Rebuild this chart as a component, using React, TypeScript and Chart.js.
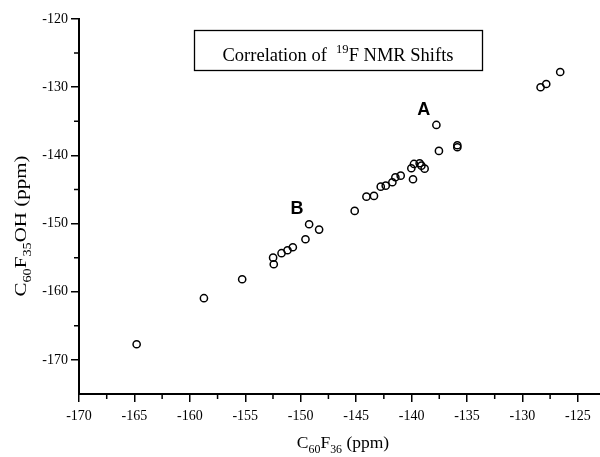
import React, { useEffect, useRef } from 'react';
import { Chart, registerables } from 'chart.js';

Chart.register(...registerables);

// C60F36 shifts (x, ppm)
const xShifts = [
  -164.8, -158.73, -155.28, -152.49, -152.43, -151.73, -151.19, -150.71, -149.57, -149.24,
  -148.34, -145.13, -144.07, -143.39, -142.78, -142.33, -141.73, -141.46, -140.98, -139.87,
  -140.02, -139.78, -139.27, -139.11, -138.82, -137.53, -137.76, -135.87, -135.87, -128.36,
  -127.85, -126.59,
];
// C60F35OH shifts (y, ppm)
const yShifts = [
  -167.7, -160.95, -158.17, -155.0, -155.97, -154.35, -153.92, -153.48, -152.3, -150.1,
  -150.89, -148.15, -146.06, -145.95, -144.59, -144.44, -143.94, -143.21, -142.98, -143.5,
  -141.89, -141.26, -141.16, -141.51, -141.95, -139.35, -135.54, -138.52, -138.81, -130.01,
  -129.53, -127.77,
];

const xTickValues = [-170, -165, -160, -155, -150, -145, -140, -135, -130, -125];
const yTickValues = [-170, -160, -150, -140, -130, -120];
const xMinorTicks = [-167.5, -162.5, -157.5, -152.5, -147.5, -142.5, -137.5, -132.5, -127.5];
const yMinorTicks = [-165, -155, -145, -135, -125];

const X_MIN = -170;
const X_MAX = -123;
const Y_MIN = -175;
const Y_MAX = -120;

const markLabels = [
  { text: 'A', x: -138.91, y: -133.34 },
  { text: 'B', x: -150.33, y: -147.86 },
];

const chartTitle = ['Correlation of  ', '19', 'F NMR Shifts'];
const xTitle = ['C', '60', 'F', '36', ' (ppm)'];
const yTitle = ['C', '60', 'F', '35', 'OH (ppm)'];

const SERIF = '"Liberation Serif", "Times New Roman", serif';
const SANS = '"Liberation Sans", Arial, sans-serif';

type Seg = { t: string; k?: 'sub' | 'sup' };

function drawRich(ctx: CanvasRenderingContext2D, segs: Seg[], x: number, y: number, size: number) {
  const small = size * 0.68;
  const widths = segs.map((s) => {
    ctx.font = `${s.k ? small : size}px ${SERIF}`;
    return ctx.measureText(s.t).width;
  });
  const total = widths.reduce((a, b) => a + b, 0);
  let cx = x - total / 2;
  ctx.textAlign = 'left';
  ctx.textBaseline = 'alphabetic';
  segs.forEach((s, i) => {
    ctx.font = `${s.k ? small : size}px ${SERIF}`;
    const dy = s.k === 'sub' ? size * 0.3 : s.k === 'sup' ? -size * 0.38 : 0;
    ctx.fillText(s.t, cx, y + dy);
    cx += widths[i];
  });
}

const decorPlugin = {
  id: 'decor',
  afterDraw(chart: any) {
    const ctx: CanvasRenderingContext2D = chart.ctx;
    const xs = chart.scales.x;
    const ys = chart.scales.y;
    const area = chart.chartArea;
    ctx.save();
    ctx.strokeStyle = '#000';
    ctx.fillStyle = '#000';
    // minor ticks
    ctx.lineWidth = 1.5;
    ctx.beginPath();
    xMinorTicks.forEach((v) => {
      const px = xs.getPixelForValue(v);
      ctx.moveTo(px, area.bottom);
      ctx.lineTo(px, area.bottom + 5);
    });
    yMinorTicks.forEach((v) => {
      const py = ys.getPixelForValue(v);
      ctx.moveTo(area.left, py);
      ctx.lineTo(area.left - 5, py);
    });
    ctx.stroke();

    // title box
    ctx.lineWidth = 1.3;
    ctx.strokeRect(194.5, 30.5, 288, 40);
    drawRich(
      ctx,
      [{ t: chartTitle[0] }, { t: chartTitle[1], k: 'sup' }, { t: chartTitle[2] }],
      338,
      60.5,
      18.5
    );

    // x axis title
    drawRich(
      ctx,
      [{ t: xTitle[0] }, { t: xTitle[1], k: 'sub' }, { t: xTitle[2] }, { t: xTitle[3], k: 'sub' }, { t: xTitle[4] }],
      343,
      448,
      17.5
    );

    // y axis title
    ctx.save();
    ctx.translate(26, 226);
    ctx.rotate(-Math.PI / 2);
    ctx.scale(1.2, 1);
    drawRich(
      ctx,
      [{ t: yTitle[0] }, { t: yTitle[1], k: 'sub' }, { t: yTitle[2] }, { t: yTitle[3], k: 'sub' }, { t: yTitle[4] }],
      0,
      0,
      17.5
    );
    ctx.restore();

    // point group labels
    ctx.font = `bold 18px ${SANS}`;
    ctx.textAlign = 'center';
    ctx.textBaseline = 'middle';
    markLabels.forEach((m) => {
      ctx.fillText(m.text, xs.getPixelForValue(m.x), ys.getPixelForValue(m.y));
    });
    ctx.restore();
  },
};

export default function App() {
  const canvasRef = useRef<HTMLCanvasElement | null>(null);

  useEffect(() => {
    if (!canvasRef.current) return;
    const points = xShifts.map((x, i) => ({ x, y: yShifts[i] }));
    const chart = new Chart(canvasRef.current, {
      type: 'scatter',
      data: {
        datasets: [
          {
            data: points,
            pointStyle: 'circle',
            pointRadius: 3.6,
            pointBorderWidth: 1.5,
            borderColor: '#000',
            backgroundColor: 'rgba(255,255,255,0)',
            clip: false,
          },
        ],
      },
      options: {
        animation: false,
        responsive: true,
        maintainAspectRatio: false,
        layout: { autoPadding: false, padding: { top: 19, left: 0, right: 0, bottom: 0 } },
        plugins: {
          legend: { display: false },
          tooltip: { enabled: false },
          title: { display: false },
        },
        scales: {
          x: {
            type: 'linear',
            position: 'bottom',
            min: X_MIN,
            max: X_MAX,
            afterBuildTicks: (scale: any) => {
              scale.ticks = xTickValues.map((v) => ({ value: v }));
            },
            afterFit: (scale: any) => {
              scale.height = 63;
              scale.paddingLeft = 0;
              scale.paddingRight = 0;
            },
            border: { display: true, color: '#000', width: 2 },
            grid: {
              display: true,
              drawOnChartArea: false,
              drawTicks: true,
              tickLength: 8,
              color: '#000',
              lineWidth: 1.5,
            },
            ticks: {
              color: '#000',
              font: { family: SERIF, size: 14 },
              padding: 6,
              maxRotation: 0,
              autoSkip: false,
              callback: (v: any) => String(v),
            },
          },
          y: {
            type: 'linear',
            position: 'left',
            min: Y_MIN,
            max: Y_MAX,
            afterBuildTicks: (scale: any) => {
              scale.ticks = yTickValues.map((v) => ({ value: v }));
            },
            afterFit: (scale: any) => {
              scale.width = 79;
              scale.paddingTop = 0;
              scale.paddingBottom = 0;
            },
            border: { display: true, color: '#000', width: 2 },
            grid: {
              display: true,
              drawOnChartArea: false,
              drawTicks: true,
              tickLength: 8,
              color: '#000',
              lineWidth: 1.5,
            },
            ticks: {
              color: '#000',
              font: { family: SERIF, size: 14 },
              padding: 3,
              autoSkip: false,
              callback: (v: any) => String(v),
            },
          },
        },
      },
      plugins: [decorPlugin],
    });
    return () => chart.destroy();
  }, []);

  return (
    <div style={{ position: 'absolute', left: 0, top: 0, width: 600, height: 457, background: '#fff' }}>
      <canvas ref={canvasRef} />
    </div>
  );
}
